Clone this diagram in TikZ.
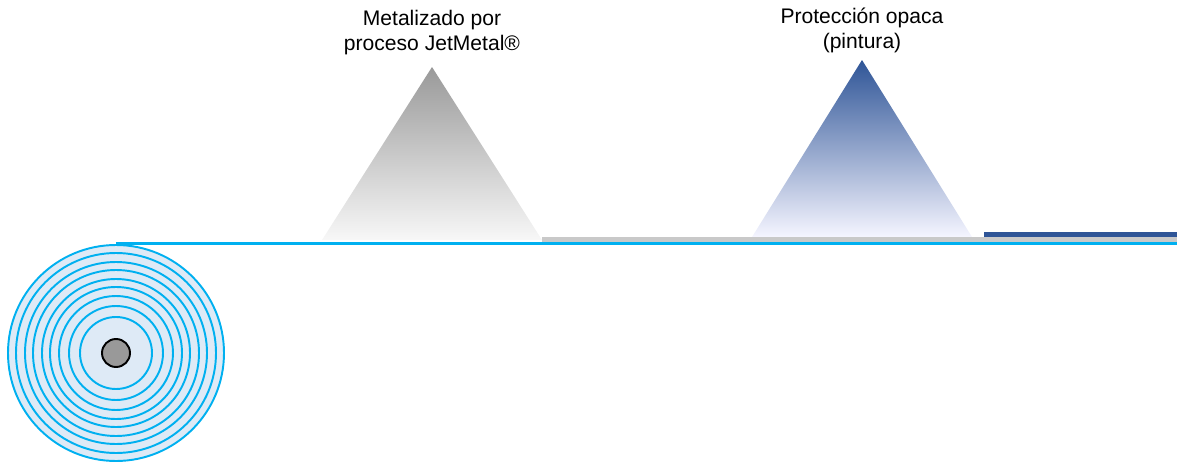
\documentclass[tikz,border=0pt]{standalone}
\usepackage{fontspec}
\setmainfont{Liberation Sans}
\usepackage{xcolor}
\usetikzlibrary{positioning, calc}
\definecolor{filmcyan}{HTML}{00B0F0}
\definecolor{rollfill}{HTML}{DEEAF6}
\definecolor{coregray}{HTML}{999999}
\definecolor{metalgray}{HTML}{C9C9C9}
\definecolor{paintblue}{HTML}{2F5597}
\tikzset{
  %% Label above a spray cone
  lbl/.style={
    align=center, font=\fontsize{12}{14.2}\selectfont,
    inner sep=0pt, text=black
  },
  %% Ring of the wound roll
  ring/.style={draw=filmcyan, line width=1.1pt},
  %% Layer band on the film
  band/.style={fill=#1, draw=none},
  band/.default=metalgray,
}

\begin{document}
\begin{tikzpicture}[x=0.02cm, y=-0.02cm]
  \useasboundingbox (0,0) rectangle (1177,463);

  %% spray cones
  \shade[top color=coregray, bottom color=white!97!black]
    (432,67) -- (542,240) -- (322,240) -- cycle;
  \shade[top color=paintblue, middle color=paintblue!35!white,
         bottom color=white!96!blue]
    (862,60) -- (972,237) -- (752,237) -- cycle;

  %% layers on the film
  \fill[band=metalgray] (542,237) rectangle (1177,242);
  \fill[band=paintblue] (984,232) rectangle (1177,237);

  %% roll
  \coordinate (core) at (116,353);
  \fill[rollfill] (core) circle[radius=108];
  \foreach \r in {108,100,91,83,74,66,57,47,36}
    \draw[ring] (core) circle[radius=\r];
  \draw[fill=coregray, line width=1.1pt] (core) circle[radius=14];

  %% film
  \coordinate (film0) at (116,243.5);
  \coordinate (film1) at (1177,243.5);
  \draw[draw=filmcyan, line width=1.7pt] (film0) -- (film1);

  %% labels
  \node[lbl] (metal) at (432,33) {Metalizado por\\proceso JetMetal®};
  \node[lbl] (paint) at (862,30) {Protección opaca\\(pintura)};

\end{tikzpicture}
\end{document}
